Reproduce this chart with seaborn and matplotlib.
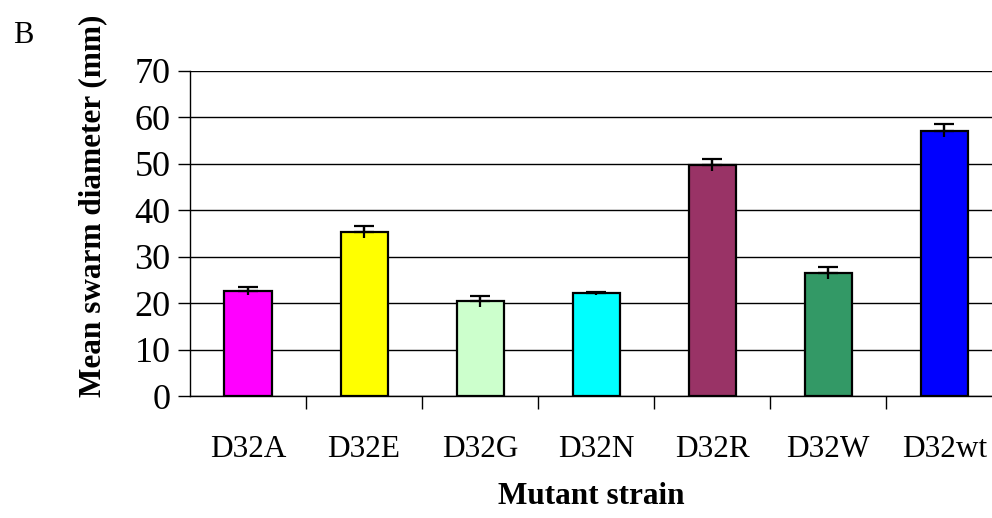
import numpy as np
import pandas as pd
import matplotlib
matplotlib.use("Agg")
import matplotlib.pyplot as plt
import seaborn as sns
from matplotlib.ticker import MultipleLocator, FixedLocator

# datos
cepas = ["D32A", "D32E", "D32G", "D32N", "D32R", "D32W", "D32wt"]
diametro = [22.6, 35.3, 20.4, 22.1, 49.8, 26.5, 57.1]
error = [0.9, 1.3, 1.2, 0.3, 1.3, 1.2, 1.4]
colores = ["#FF00FF", "#FFFF00", "#CCFFCC", "#00FFFF", "#993366", "#339966", "#0000FF"]

df = pd.DataFrame({"cepa": cepas, "diametro": diametro, "error": error})

sns.set_style("white")
plt.rcParams["font.family"] = ["Liberation Serif", "DejaVu Serif"]
plt.rcParams["text.color"] = "black"
plt.rcParams["axes.labelcolor"] = "black"
plt.rcParams["xtick.color"] = "black"
plt.rcParams["ytick.color"] = "black"

fig = plt.figure(figsize=(9.92, 5.18), dpi=100)
ax = fig.add_axes([0.1915, 0.2355, 0.8085, 0.6275])

sns.barplot(data=df, x="cepa", y="diametro", hue="cepa", palette=colores,
            saturation=1, legend=False, errorbar=None, width=0.405,
            edgecolor="black", linewidth=1.6, ax=ax, zorder=3)

# barras de error: linea a ambos lados, tapa solo arriba
centros = [p.get_x() + p.get_width() / 2 for p in ax.patches]
ax.errorbar(centros, df["diametro"], yerr=df["error"], fmt="none",
            ecolor="black", elinewidth=1.6, capsize=0, zorder=4)
ax.errorbar(centros, df["diametro"], yerr=[np.zeros(len(cepas)), df["error"]],
            fmt="none", ecolor="black", elinewidth=1.6, capsize=7,
            capthick=1.6, zorder=4)

ax.set_ylim(0, 70)
ax.set_xlim(-0.5, 6.41)
ax.yaxis.set_major_locator(MultipleLocator(10))
ax.grid(axis="y", color="black", linewidth=1.0, zorder=0)
ax.set_axisbelow(True)

for lado in ["top", "right"]:
    ax.spines[lado].set_visible(False)
for lado in ["left", "bottom"]:
    ax.spines[lado].set_color("black")
    ax.spines[lado].set_linewidth(1.0)

ax.tick_params(axis="y", which="major", direction="out", length=9, width=1,
               labelsize=26, pad=5, left=True)
ax.tick_params(axis="x", which="major", length=0, labelsize=22.5, pad=28)
ax.xaxis.set_minor_locator(FixedLocator(np.arange(0.5, 6.0, 1.0)))
ax.tick_params(axis="x", which="minor", direction="out", length=9, width=1, bottom=True)

ax.set_xlabel("Mutant strain", fontsize=22.5, fontweight="bold", labelpad=13)
ax.set_ylabel("Mean swarm diameter (mm)", fontsize=22.5, fontweight="bold")
ax.yaxis.set_label_coords(-0.1035, 0.585)

fig.text(0.013, 0.917, "B", fontsize=22)

fig.savefig("out.png", dpi=100)
